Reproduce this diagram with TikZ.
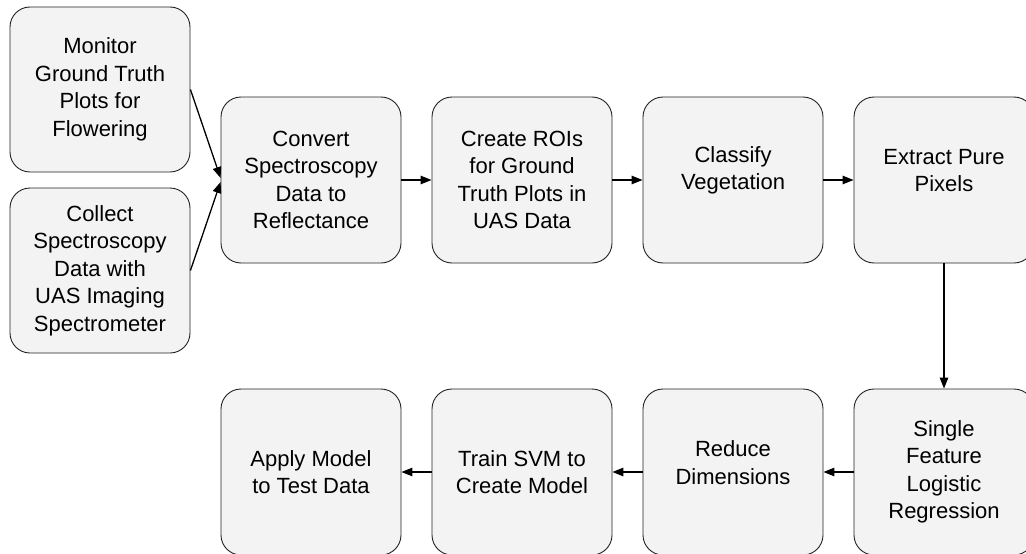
\documentclass[tikz,border=0pt]{standalone}
\usepackage{fontspec}
\setmainfont{Liberation Sans}
\usetikzlibrary{arrows.meta}
\definecolor{boxgray}{HTML}{F3F3F3}
\definecolor{edgegray}{HTML}{222222}
\tikzset{
  lbl/.style={align=center, inner sep=0pt, text=black,
    font=\fontsize{22}{27.5}\selectfont},
  stepbox/.style={lbl, draw=edgegray, line width=0.9pt, fill=boxgray,
    rounded corners=20pt, minimum width=180pt, minimum height=166pt},
  flow/.style={-{Triangle[length=11pt,width=8.5pt]}, line width=1.3pt, black},
}
\begin{document}
\begin{tikzpicture}[x=1pt,y=-1pt]
  \path[use as bounding box, clip] (0,0) rectangle (1026,554);
  \fill[white] (0,0) rectangle (1026,554);

  % input boxes
  \node[stepbox, minimum height=165pt] (monitor) at (100,89.5)
    {Monitor\\Ground Truth\\Plots for\\Flowering};
  \node[stepbox, minimum height=165pt] (collect) at (100,270.5)
    {Collect\\Spectroscopy\\Data with\\UAS Imaging\\Spectrometer};

  % upper row
  \node[stepbox] (convert) at (311,180)
    {Convert\\Spectroscopy\\Data to\\Reflectance};
  \node[stepbox] (rois) at (522,180)
    {Create ROIs\\for Ground\\Truth Plots in\\UAS Data};
  \node[stepbox] (classify) at (733,180) {};
  \node[lbl] (classifyT) at ([yshift=9.5pt]classify.center)
    {Classify\\Vegetation};
  \node[stepbox] (extract) at (944,180) {};
  \node[lbl] (extractT) at ([yshift=9.5pt]extract.center)
    {Extract Pure\\Pixels};

  % lower row
  \node[stepbox] (single) at (944,472)
    {Single\\Feature\\Logistic\\Regression};
  \node[stepbox] (reduce) at (733,472) {};
  \node[lbl] (reduceT) at ([yshift=9.5pt]reduce.center)
    {Reduce\\Dimensions};
  \node[stepbox] (train) at (522,472)
    {Train SVM to\\Create Model};
  \node[stepbox] (apply) at (311,472)
    {Apply Model\\to Test Data};

  % connectors
  \draw[flow] (monitor.east) -- ([yshift=2pt]convert.west);
  \draw[flow] (collect.east) -- ([yshift=-2pt]convert.west);
  \draw[flow] (convert) -- (rois);
  \draw[flow] (rois) -- (classify);
  \draw[flow] (classify) -- (extract);
  \draw[flow] (extract) -- (single);
  \draw[flow] (single) -- (reduce);
  \draw[flow] (reduce) -- (train);
  \draw[flow] (train) -- (apply);
\end{tikzpicture}
\end{document}
